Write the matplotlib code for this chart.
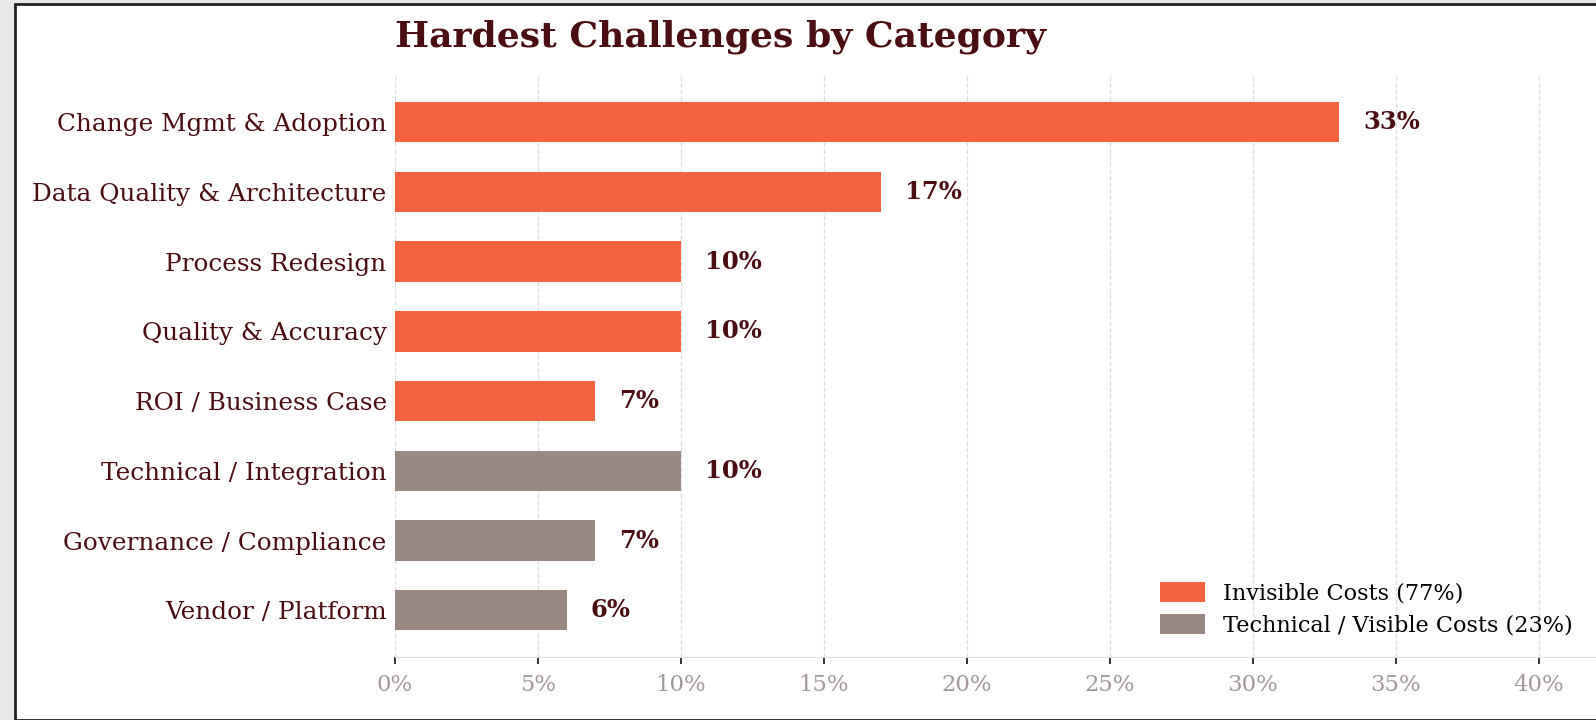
"""
Hardest challenges by category, horizontal bars.
"""
import matplotlib.pyplot as plt
from matplotlib.patches import Patch, Rectangle

categories = ['Change Mgmt & Adoption', 'Data Quality & Architecture', 'Process Redesign',
              'Quality & Accuracy', 'ROI / Business Case', 'Technical / Integration',
              'Governance / Compliance', 'Vendor / Platform']
values = [33, 17, 10, 10, 7, 10, 7, 6]
groups = ['invisible'] * 5 + ['visible'] * 3

colours = {'invisible': '#F5633E', 'visible': '#998982'}
legend_labels = {'invisible': 'Invisible Costs (77%)', 'visible': 'Technical / Visible Costs (23%)'}
dark = '#4a0d12'

plt.rcParams['font.family'] = 'DejaVu Serif'

fig = plt.figure(figsize=(15.96, 7.2), dpi=100)
fig.patch.set_facecolor('#e9e9e9')
# white card with black frame
fig.patches.append(Rectangle((15 / 1596, 0.0), 1.0, 1 - 4 / 720, transform=fig.transFigure,
                             facecolor='white', edgecolor='#222222', linewidth=2, zorder=-5))

ax = fig.add_axes([395 / 1596, 1 - 657 / 720, 1201 / 1596, (657 - 76) / 720])
ax.set_zorder(2)
ax.set_facecolor('none')

y = list(range(len(categories)))
ax.barh(y, values, height=0.58, color=[colours[g] for g in groups], zorder=3)

for yi, v in zip(y, values):
    ax.text(v + 0.85, yi, f'{v}%', va='center', ha='left', fontsize=17.5,
            fontweight='bold', color=dark, zorder=4)

ax.set_yticks(y)
ax.set_yticklabels(categories, fontsize=17.8, color=dark)
ax.set_ylim(7.67, -0.66)
ax.set_xlim(0, 42)
ax.set_xticks(range(0, 45, 5))
ax.set_xticklabels([f'{t}%' for t in range(0, 45, 5)], fontsize=16.4, color='#a39a98')

ax.tick_params(axis='y', length=0, pad=6)
ax.tick_params(axis='x', length=5, width=1.3, color='#222222', pad=7)
for side in ['top', 'right', 'left']:
    ax.spines[side].set_visible(False)
ax.spines['bottom'].set_color('#dddddd')
ax.xaxis.grid(True, linestyle='--', color='#dddddd', linewidth=0.9, zorder=0)
ax.set_axisbelow(True)

ax.set_title('Hardest Challenges by Category', loc='left', fontsize=26,
             fontweight='bold', color=dark, pad=21)

handles = [Patch(facecolor=colours[k], label=legend_labels[k]) for k in ['invisible', 'visible']]
ax.legend(handles=handles, loc='lower right', frameon=False, fontsize=16.1,
          bbox_to_anchor=(0.997, 0.0), handlelength=2.0, handleheight=1.0,
          labelspacing=0.42, handletextpad=0.8)

fig.savefig('out.png', dpi=100)
